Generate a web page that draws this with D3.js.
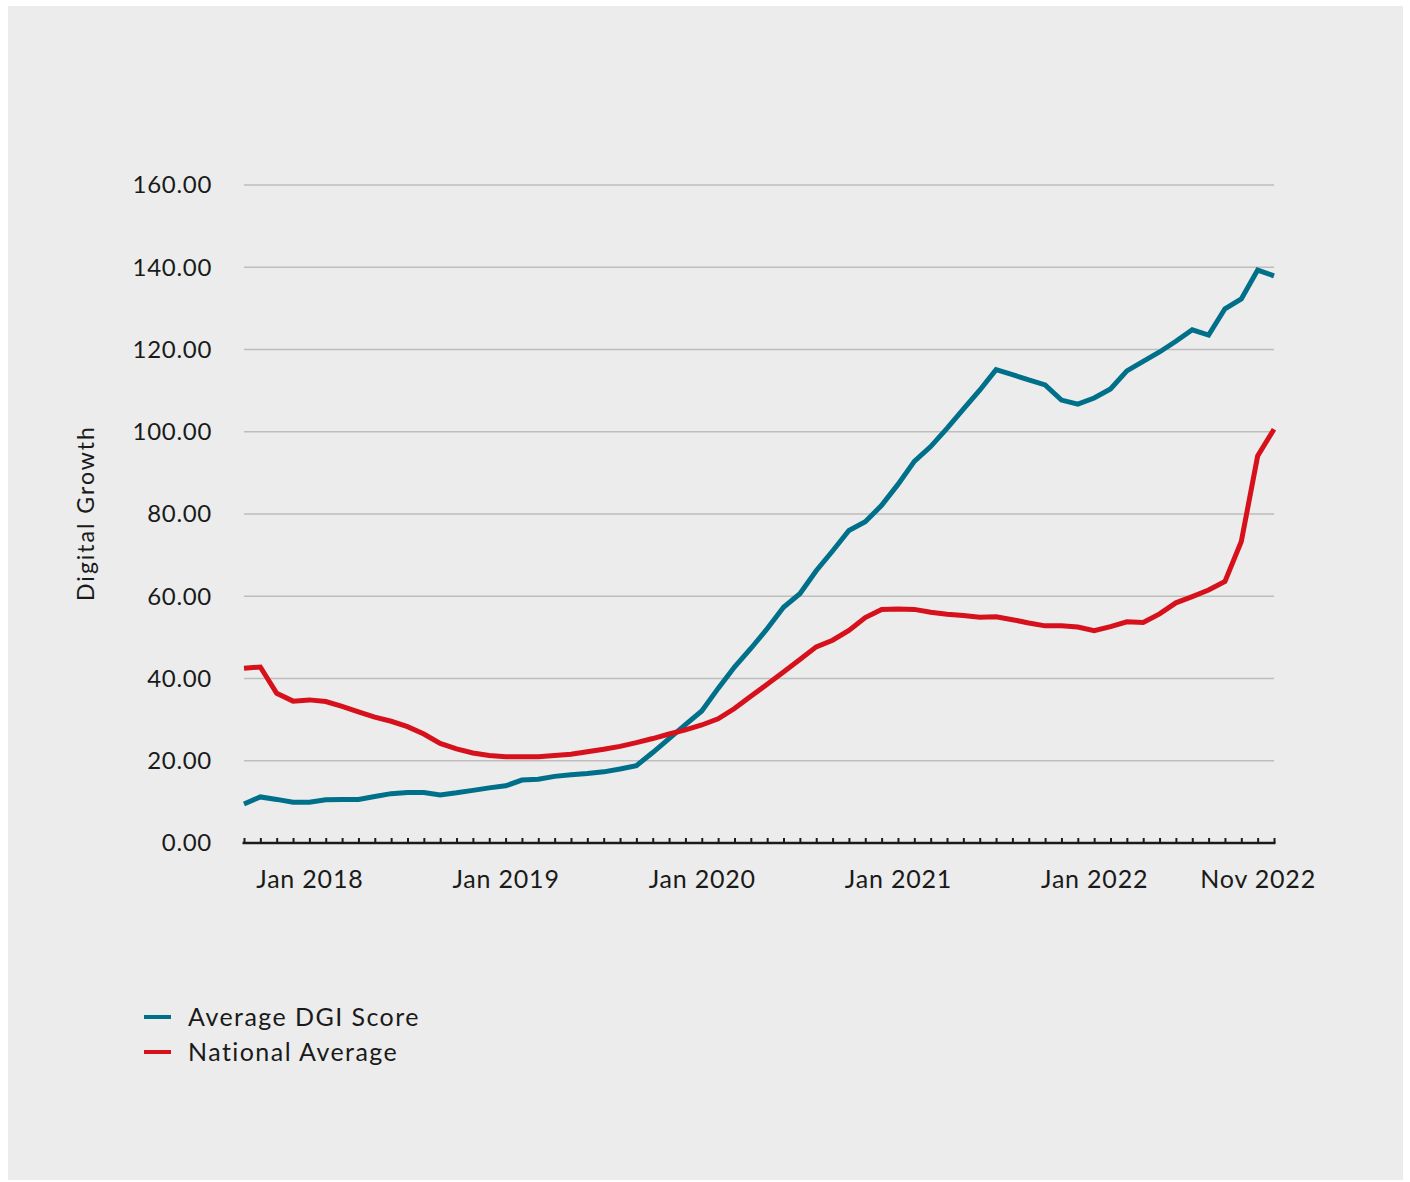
<!DOCTYPE html>
<html>
<head>
<meta charset="utf-8">
<script src="https://cdn.jsdelivr.net/npm/d3@7"></script>
<style>
  html, body { margin: 0; padding: 0; background: #ffffff; }
  svg { display: block; }
  text { font-family: Lato, "Noto Sans", sans-serif; fill: #1a1a1a; }
</style>
</head>
<body>
<svg id="chart" width="1410" height="1182"></svg>
<script>
// Months from Sep 2017 to Dec 2022
const months = [
  "Sep 2017","Oct 2017","Nov 2017","Dec 2017",
  "Jan 2018","Feb 2018","Mar 2018","Apr 2018","May 2018","Jun 2018","Jul 2018","Aug 2018","Sep 2018","Oct 2018","Nov 2018","Dec 2018",
  "Jan 2019","Feb 2019","Mar 2019","Apr 2019","May 2019","Jun 2019","Jul 2019","Aug 2019","Sep 2019","Oct 2019","Nov 2019","Dec 2019",
  "Jan 2020","Feb 2020","Mar 2020","Apr 2020","May 2020","Jun 2020","Jul 2020","Aug 2020","Sep 2020","Oct 2020","Nov 2020","Dec 2020",
  "Jan 2021","Feb 2021","Mar 2021","Apr 2021","May 2021","Jun 2021","Jul 2021","Aug 2021","Sep 2021","Oct 2021","Nov 2021","Dec 2021",
  "Jan 2022","Feb 2022","Mar 2022","Apr 2022","May 2022","Jun 2022","Jul 2022","Aug 2022","Sep 2022","Oct 2022","Nov 2022","Dec 2022"
];

const avgDGIScore = [
  9.5, 11.2, 10.6, 9.9, 9.9, 10.5, 10.6, 10.6, 11.3, 12.0,
  12.3, 12.3, 11.7, 12.2, 12.8, 13.4, 13.9, 15.3, 15.5, 16.2,
  16.6, 16.9, 17.3, 18.0, 18.8, 22.0, 25.4, 28.8, 32.1, 37.6,
  42.8, 47.3, 52.1, 57.3, 60.6, 66.2, 71.0, 76.0, 78.1, 82.1,
  87.2, 92.8, 96.4, 100.8, 105.5, 110.1, 115.1, 113.9, 112.6, 111.4,
  107.7, 106.7, 108.2, 110.4, 114.8, 117.1, 119.4, 122.0, 124.8, 123.5,
  129.9, 132.3, 139.3, 137.9
];

const nationalAverage = [
  42.5, 42.8, 36.4, 34.5, 34.8, 34.4, 33.2, 31.9, 30.6, 29.6,
  28.3, 26.5, 24.2, 22.9, 21.9, 21.3, 21.0, 21.0, 21.0, 21.3,
  21.6, 22.2, 22.8, 23.5, 24.4, 25.4, 26.5, 27.5, 28.7, 30.2,
  32.7, 35.7, 38.6, 41.6, 44.6, 47.7, 49.3, 51.7, 54.8, 56.8,
  56.9, 56.8, 56.1, 55.6, 55.3, 54.9, 55.0, 54.3, 53.5, 52.8,
  52.8, 52.5, 51.6, 52.6, 53.8, 53.6, 55.7, 58.4, 59.9, 61.5,
  63.6, 73.3, 94.1, 100.6
];

const xTickLabels = ["Jan 2018", "Jan 2019", "Jan 2020", "Jan 2021", "Jan 2022", "Nov 2022"];
const yTicks = [0, 20, 40, 60, 80, 100, 120, 140, 160];

const seriesNames = ["Average DGI Score", "National Average"];
const seriesColors = ["#00708a", "#d7111b"];

const svg = d3.select("#chart");

// panel background
svg.append("rect")
  .attr("x", 8).attr("y", 6)
  .attr("width", 1395).attr("height", 1174)
  .attr("fill", "#ebeceb");

const x = d3.scalePoint().domain(months).range([244, 1274]);
const y = d3.scaleLinear().domain([0, 160]).range([843, 185]);

// horizontal gridlines
svg.append("g")
  .selectAll("line")
  .data(yTicks.filter(d => d > 0))
  .join("line")
  .attr("x1", 244).attr("x2", 1274)
  .attr("y1", d => y(d)).attr("y2", d => y(d))
  .attr("stroke", "#bdbdbd")
  .attr("stroke-width", 1.5);

// y tick labels
svg.append("g")
  .selectAll("text")
  .data(yTicks)
  .join("text")
  .attr("x", 212)
  .attr("y", d => y(d))
  .attr("dy", "0.35em")
  .attr("text-anchor", "end")
  .style("font-size", "24px")
  .style("letter-spacing", "0.7px")
  .text(d => d3.format(".2f")(d));

// y axis title
svg.append("text")
  .attr("transform", "translate(94,513) rotate(-90)")
  .attr("text-anchor", "middle")
  .style("font-size", "23px")
  .style("letter-spacing", "2px")
  .text("Digital Growth");

// lines
const line = d3.line()
  .x((d, i) => x(months[i]))
  .y(d => y(d));

[avgDGIScore, nationalAverage].forEach((vals, k) => {
  svg.append("path")
    .datum(vals)
    .attr("fill", "none")
    .attr("stroke", seriesColors[k])
    .attr("stroke-width", 5)
    .attr("stroke-linejoin", "miter")
    .attr("d", line);
});

// x axis: monthly ticks pointing up, labels on selected months
const xAxis = d3.axisBottom(x)
  .tickSizeInner(-5)
  .tickSizeOuter(0)
  .tickPadding(27)
  .tickFormat(d => xTickLabels.includes(d) ? d : "");

const gx = svg.append("g")
  .attr("transform", "translate(0,843)")
  .call(xAxis);
gx.select(".domain").attr("stroke", "#1a1a1a").attr("stroke-width", 2.5)
  .attr("d", "M242.5,0H1275.5");
gx.selectAll(".tick line").attr("stroke", "#1a1a1a").attr("stroke-width", 2);
gx.selectAll(".tick text")
  .style("font-family", "Lato, 'Noto Sans', sans-serif")
  .style("font-size", "25px")
  .style("letter-spacing", "0.8px")
  .attr("fill", "#1a1a1a");

// legend
const legend = svg.append("g");
seriesNames.forEach((name, k) => {
  const yy = 1017 + k * 35;
  legend.append("line")
    .attr("x1", 144).attr("x2", 171)
    .attr("y1", yy).attr("y2", yy)
    .attr("stroke", seriesColors[k])
    .attr("stroke-width", 4);
  legend.append("text")
    .attr("x", 188).attr("y", yy)
    .attr("dy", "0.35em")
    .style("font-size", "25px")
    .style("letter-spacing", "1.45px")
    .text(name);
});
</script>
</body>
</html>
